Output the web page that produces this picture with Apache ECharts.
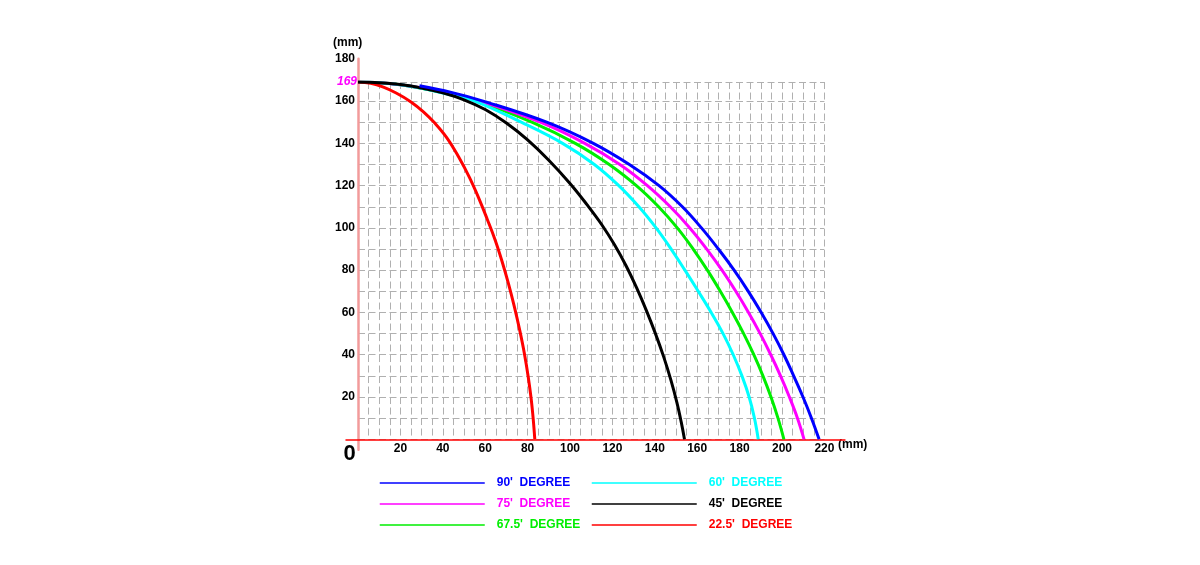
<!DOCTYPE html>
<html>
<head>
<meta charset="utf-8">
<title>Curves</title>
<script src="https://cdn.jsdelivr.net/npm/echarts@6/dist/echarts.min.js"></script>
<style>
    html, body { margin: 0; padding: 0; background: #fff; }
    #main { width: 1200px; height: 565px; }
</style>
</head>
<body>
<div id="main"></div>
<script>
// 曲线数据 [x(mm), y(mm)]
const deg90 = [[29, 167.2], [44, 164.1], [59, 160], [89, 150], [111, 140], [128, 130], [142, 120], [153, 110], [162, 100], [170, 90], [177.4, 80], [184.1, 70], [190.2, 60], [195.8, 50], [200.9, 40], [205.5, 30], [209.9, 20], [213.9, 10], [217.5, 0]]
const deg75 = [[0, 169], [10, 168.7], [20, 167.7], [30, 166.2], [44, 163.5], [57.5, 160], [86, 150], [107, 140], [123.5, 130], [136.5, 120], [147.3, 110], [156.5, 100], [164.5, 90], [171.7, 80], [178.2, 70], [184.2, 60], [189.7, 50], [194.7, 40], [199.3, 30], [203.5, 20], [207.3, 10], [210.4, 0]]
const deg675 = [[0, 169], [10, 168.7], [20, 167.7], [30, 166.1], [43, 163.4], [56.5, 160], [82, 150], [102.5, 140], [118.5, 130], [131.3, 120], [141.8, 110], [150.6, 100], [158.1, 90], [164.8, 80], [170.9, 70], [176.6, 60], [181.9, 50], [186.7, 40], [191, 30], [194.8, 20], [198.1, 10], [200.9, 0]]
const deg60 = [[0, 169], [10, 168.7], [20, 167.7], [30, 166], [42, 163.3], [55, 160], [77, 150], [96.5, 140], [111.5, 130], [123, 120], [132.5, 110], [140.6, 100], [147.7, 90], [154.2, 80], [160.5, 70], [166.6, 60], [172.2, 50], [177, 40], [181.1, 30], [184.5, 20], [187, 10], [188.8, 0]]
const deg45 = [[0, 169], [10, 168.7], [20, 167.8], [30, 166.2], [40, 163.9], [50, 160.6], [60, 156], [70, 149.6], [80, 141.6], [90, 132], [100, 121], [108, 111], [115, 101.5], [121, 92], [126.5, 82], [131.5, 71.5], [136, 61], [140.3, 50], [144.2, 39], [147.6, 28], [150.4, 17.5], [152.5, 8], [154, 0]]
const deg225 = [[0, 169], [6, 168.4], [12, 166.6], [18, 163.8], [25, 159.6], [31, 154.8], [36, 149.8], [42, 142.5], [47.5, 133.5], [52.5, 124], [57, 114], [61, 104], [64.6, 94.5], [68, 84], [71, 73.5], [73.8, 62.5], [76.3, 51.5], [78.5, 40.5], [80.3, 29.5], [81.7, 19], [82.7, 9], [83.4, 0]]

const names = ["90'  DEGREE", "75'  DEGREE", "67.5'  DEGREE", "60'  DEGREE", "45'  DEGREE", "22.5'  DEGREE"]
const colors = ['#0000ff', '#ff00ff', '#00ee00', '#00ffff', '#000000', '#ff0000']
const curves = [deg90, deg75, deg675, deg60, deg45, deg225]

// 坐标轴范围
const xMax = 220
const yTop = 169
const yMax = 180
const xStep = 20
const yStep = 20

// 像素布局
const X0 = 358, Y0 = 439.3, KX = 2.12, KY = 2.114
const FONT = 'Arial, "Liberation Sans", sans-serif'

const dashed = { color: '#b0b0b0', width: 1, type: [7, 3.5] }

// 绘制顺序：蓝色在最上层
const drawOrder = [2, 1, 3, 5, 4, 0]
const series = drawOrder.map(i => ({
    name: names[i],
    type: 'line',
    xAxisIndex: 0,
    yAxisIndex: 0,
    data: curves[i],
    smooth: 0.4,
    symbol: 'none',
    lineStyle: { color: colors[i], width: 3 },
    itemStyle: { color: colors[i] },
    z: 3
}))

const legendItem = i => ({ name: names[i], textStyle: { color: colors[i] } })
const legendBase = {
    orient: 'vertical',
    top: 477,
    padding: 0,
    itemWidth: 105,
    itemHeight: 14,
    itemGap: 9,
    selectedMode: false,
    lineStyle: { width: 1.5 },
    // 图例里不画圆点
    itemStyle: { opacity: 0 },
    textStyle: { fontWeight: 'bold', fontSize: 12, fontFamily: FONT, padding: [0, 0, 0, 7] }
}

const option = {
    animation: false,
    textStyle: { fontFamily: FONT },
    grid: [
        // 数据区 0..220 x 0..169
        { left: X0, top: Y0 - yTop * KY, width: xMax * KX, height: yTop * KY },
        // 坐标轴线（略长于数据区）
        { left: X0 - 5.66 * KX, top: Y0 - yMax * KY, width: (229.7 + 5.66) * KX, height: (yMax + 5) * KY },
        // y 轴刻度标签 0..180
        { left: X0, top: Y0 - yMax * KY, width: xMax * KX, height: yMax * KY }
    ],
    xAxis: [
        {
            gridIndex: 0, type: 'value', min: 0, max: xMax, interval: xStep,
            axisLine: { show: false }, axisTick: { show: false },
            axisLabel: { showMinLabel: false, color: '#000', fontWeight: 'bold', fontSize: 12, margin: 3 },
            splitLine: { show: true, lineStyle: dashed },
            minorTick: { show: false, splitNumber: 4 },
            minorSplitLine: { show: true, lineStyle: dashed }
        },
        {
            gridIndex: 1, type: 'value', min: -5.66, max: 229.7,
            axisLine: { show: true, onZero: true, lineStyle: { color: '#ff0000', width: 1.5 } },
            axisTick: { show: false }, axisLabel: { show: false }, splitLine: { show: false }
        },
        { gridIndex: 2, type: 'value', min: 0, max: xMax, show: false }
    ],
    yAxis: [
        {
            gridIndex: 0, type: 'value', min: 0, max: yTop, interval: 10,
            axisLine: { show: false }, axisTick: { show: false },
            axisLabel: {
                showMaxLabel: true,
                formatter: v => (v === yTop ? String(yTop) : ''),
                color: '#ff00ff', fontStyle: 'italic', fontWeight: 'bold', fontSize: 12, margin: 1
            },
            splitLine: { show: true, lineStyle: dashed }
        },
        {
            gridIndex: 1, type: 'value', min: -5, max: yMax,
            axisLine: { show: true, onZero: true, lineStyle: { color: '#f29b9b', width: 2.5 } },
            axisTick: { show: false }, axisLabel: { show: false }, splitLine: { show: false }
        },
        {
            gridIndex: 2, type: 'value', min: 0, max: yMax, interval: yStep,
            axisLine: { show: false }, axisTick: { show: false },
            axisLabel: { showMinLabel: false, color: '#000', fontWeight: 'bold', fontSize: 12, margin: 3 },
            splitLine: { show: false }
        }
    ],
    legend: [
        Object.assign({}, legendBase, { left: 379, data: [0, 1, 2].map(legendItem) }),
        Object.assign({}, legendBase, { left: 591, data: [3, 4, 5].map(legendItem) })
    ],
    graphic: [
        { type: 'text', x: 333, y: 43, style: { text: '(mm)', fill: '#000', font: 'bold 12px ' + FONT, align: 'left', verticalAlign: 'middle' } },
        { type: 'text', x: 838, y: 445, style: { text: '(mm)', fill: '#000', font: 'bold 12px ' + FONT, align: 'left', verticalAlign: 'middle' } },
        { type: 'text', x: 349.5, y: 454, style: { text: '0', fill: '#000', font: 'bold 22px ' + FONT, align: 'center', verticalAlign: 'middle' } }
    ],
    series: series
}

const chart = echarts.init(document.getElementById('main'))
chart.setOption(option)
window.addEventListener('resize', () => chart.resize())
</script>
</body>
</html>
